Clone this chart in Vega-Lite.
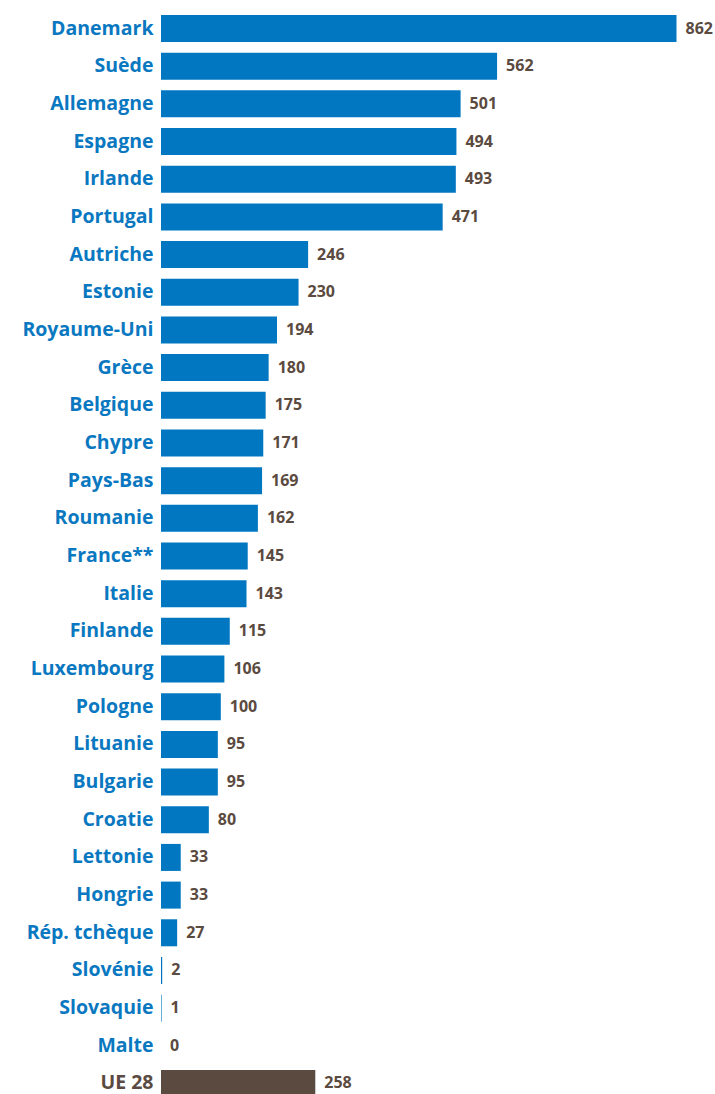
{
  "$schema": "https://vega.github.io/schema/vega-lite/v6.json",
  "autosize": "none",
  "width": 515.5,
  "height": 1082,
  "padding": {"left": 161, "top": 15, "right": 38.5, "bottom": 0},
  "background": "white",
  "config": {"view": {"stroke": null}},
  "data": {"values": [
    {"pays": "Danemark", "valeur": 862, "groupe": "pays"},
    {"pays": "Suède", "valeur": 562, "groupe": "pays"},
    {"pays": "Allemagne", "valeur": 501, "groupe": "pays"},
    {"pays": "Espagne", "valeur": 494, "groupe": "pays"},
    {"pays": "Irlande", "valeur": 493, "groupe": "pays"},
    {"pays": "Portugal", "valeur": 471, "groupe": "pays"},
    {"pays": "Autriche", "valeur": 246, "groupe": "pays"},
    {"pays": "Estonie", "valeur": 230, "groupe": "pays"},
    {"pays": "Royaume-Uni", "valeur": 194, "groupe": "pays"},
    {"pays": "Grèce", "valeur": 180, "groupe": "pays"},
    {"pays": "Belgique", "valeur": 175, "groupe": "pays"},
    {"pays": "Chypre", "valeur": 171, "groupe": "pays"},
    {"pays": "Pays-Bas", "valeur": 169, "groupe": "pays"},
    {"pays": "Roumanie", "valeur": 162, "groupe": "pays"},
    {"pays": "France**", "valeur": 145, "groupe": "pays"},
    {"pays": "Italie", "valeur": 143, "groupe": "pays"},
    {"pays": "Finlande", "valeur": 115, "groupe": "pays"},
    {"pays": "Luxembourg", "valeur": 106, "groupe": "pays"},
    {"pays": "Pologne", "valeur": 100, "groupe": "pays"},
    {"pays": "Lituanie", "valeur": 95, "groupe": "pays"},
    {"pays": "Bulgarie", "valeur": 95, "groupe": "pays"},
    {"pays": "Croatie", "valeur": 80, "groupe": "pays"},
    {"pays": "Lettonie", "valeur": 33, "groupe": "pays"},
    {"pays": "Hongrie", "valeur": 33, "groupe": "pays"},
    {"pays": "Rép. tchèque", "valeur": 27, "groupe": "pays"},
    {"pays": "Slovénie", "valeur": 2, "groupe": "pays"},
    {"pays": "Slovaquie", "valeur": 1, "groupe": "pays"},
    {"pays": "Malte", "valeur": 0, "groupe": "pays"},
    {"pays": "UE 28", "valeur": 258, "groupe": "ue"}
  ]},
  "encoding": {
    "y": {
      "field": "pays", "type": "nominal", "sort": null,
      "scale": {"paddingInner": 0.283, "paddingOuter": 0},
      "axis": {
        "title": null, "ticks": false, "domain": false, "labelPadding": 8,
        "labelFont": "Open Sans", "labelFontWeight": "bold", "labelFontSize": 19.5,
        "labelColor": {"condition": {"test": "datum.value == 'UE 28'", "value": "#5b4a41"}, "value": "#0a78c0"}
      }
    },
    "x": {
      "field": "valeur", "type": "quantitative",
      "scale": {"domain": [0, 862], "nice": false, "zero": true},
      "axis": null
    }
  },
  "layer": [
    {
      "mark": {"type": "bar"},
      "encoding": {
        "color": {"field": "groupe", "type": "nominal", "legend": null,
          "scale": {"domain": ["pays", "ue"], "range": ["#0077c0", "#5b4a40"]}}
      }
    },
    {
      "mark": {"type": "text", "align": "left", "baseline": "middle", "dx": 9,
        "font": "Open Sans", "fontWeight": "bold", "fontSize": 16, "color": "#5b4a40"},
      "encoding": {"text": {"field": "valeur", "type": "quantitative"}}
    }
  ]
}
